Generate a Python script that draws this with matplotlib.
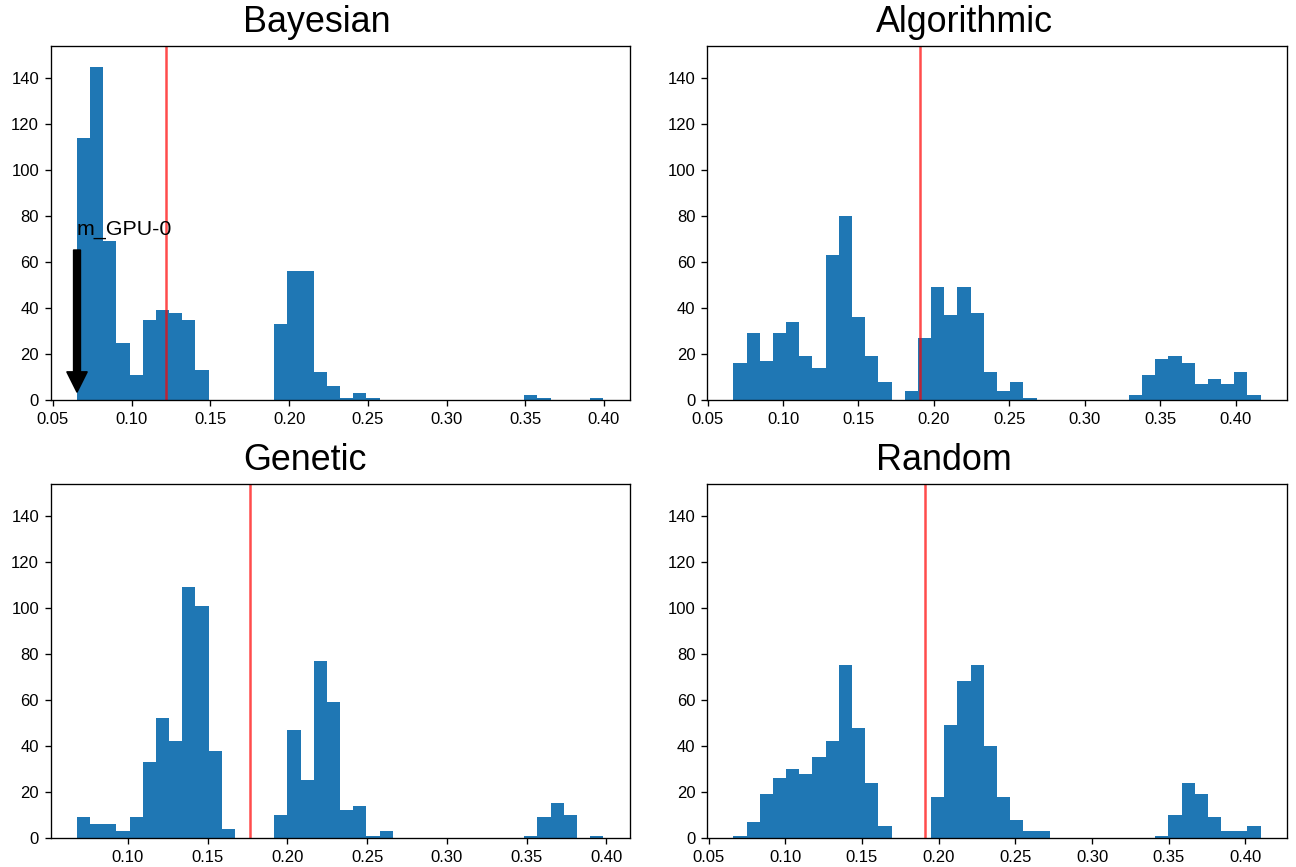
import numpy as np
import matplotlib
matplotlib.use("Agg")
import matplotlib.pyplot as plt

plt.rcParams['font.family'] = ['Liberation Sans', 'DejaVu Sans']

titles = ["Bayesian", "Algorithmic", "Genetic", "Random"]

# histogram ranges (min, max of the data) -- 40 bins each
bayes_range = (0.0653, 0.3995)
algo_range = (0.0671, 0.4165)
genetic_range = (0.0681, 0.3980)
random_range = (0.0662, 0.4099)

bayes_counts = [114, 145, 69, 25, 11, 35, 39, 38, 35, 13,
                0, 0, 0, 0, 0, 33, 56, 56, 12, 6,
                1, 3, 1, 0, 0, 0, 0, 0, 0, 0,
                0, 0, 0, 0, 2, 1, 0, 0, 0, 1]
algo_counts = [16, 29, 17, 29, 34, 19, 14, 63, 80, 36,
               19, 8, 0, 4, 27, 49, 37, 49, 38, 12,
               4, 8, 1, 0, 0, 0, 0, 0, 0, 0,
               2, 11, 18, 19, 16, 7, 9, 7, 12, 2]
genetic_counts = [9, 6, 6, 3, 9, 33, 52, 42, 109, 101,
                  38, 4, 0, 0, 0, 10, 47, 25, 77, 59,
                  12, 14, 1, 3, 0, 0, 0, 0, 0, 0,
                  0, 0, 0, 0, 1, 9, 15, 10, 0, 1]
random_counts = [1, 7, 19, 26, 30, 28, 35, 42, 75, 48,
                 24, 5, 0, 0, 0, 18, 49, 68, 75, 40,
                 18, 8, 3, 3, 0, 0, 0, 0, 0, 0,
                 0, 0, 1, 10, 24, 19, 9, 3, 3, 5]

# vertical reference lines (means)
means = [0.1220, 0.1905, 0.1766, 0.1911]

annot_label = "m_GPU-0"
annot_y = 72

ranges = [bayes_range, algo_range, genetic_range, random_range]
counts = [bayes_counts, algo_counts, genetic_counts, random_counts]

W, H = 1296, 867
fig = plt.figure(figsize=(W / 120, H / 120), dpi=120)

# axes rectangles in pixels: (left, top, right, bottom)
rects_px = [(50.7, 46, 629.5, 400), (707, 46, 1287, 400),
            (50.7, 483.5, 629.5, 838), (707, 483.5, 1287, 838)]
title_x = [0.332, 0.292, 0.332, 0.292]

for i, (l, t, r, b) in enumerate(rects_px):
    ax = fig.add_axes([l / W, 1 - b / H, (r - l) / W, (b - t) / H])
    lo, hi = ranges[i]
    edges = np.linspace(lo, hi, 41)
    ax.hist(edges[:-1], bins=edges, weights=counts[i], color='#1f77b4')
    ax.axvline(means[i], color='red', alpha=0.7, lw=1.5)
    ax.set_ylim(0, 154)
    ax.set_yticks(np.arange(0, 141, 20))
    ax.tick_params(labelsize=10)
    ax.text(title_x[i], 1 + 14 / (b - t), titles[i], transform=ax.transAxes,
            ha='left', va='baseline', fontsize=21.5)
    if i == 0:
        ax.annotate(annot_label, xy=(lo, 0), xytext=(lo, annot_y),
                    arrowprops=dict(facecolor='black', shrink=0.05),
                    fontsize=12.8)

fig.savefig("out.png", dpi=120)
